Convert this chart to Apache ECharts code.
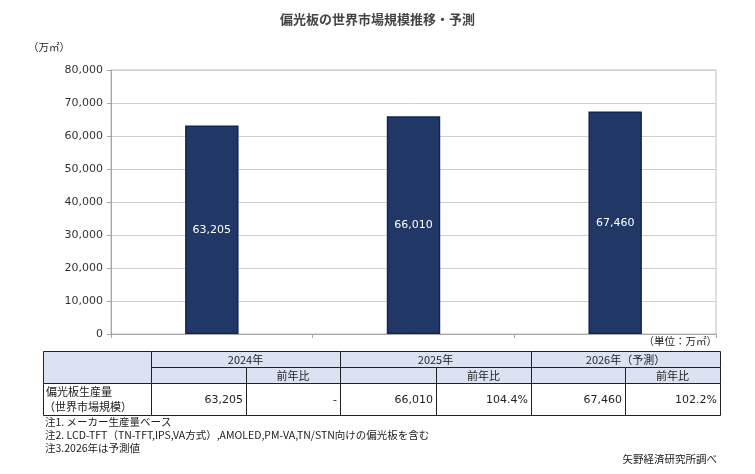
<!DOCTYPE html>
<html>
<head>
<meta charset="utf-8">
<script src="https://cdn.jsdelivr.net/npm/echarts@6/dist/echarts.min.js"></script>
<style>
  html, body { margin: 0; padding: 0; background: #fff; }
  #main { width: 755px; height: 474px; }
</style>
</head>
<body>
<div id="main"></div>
<script>
// データ
var years = ['2024年', '2025年', '2026年（予測）'];
var values = [63205, 66010, 67460];
var yoy = ['-', '104.4%', '102.2%'];
var rowLabel = ['偏光板生産量', '（世界市場規模）'];
var notes = [
    '注1. メーカー生産量ベース',
    '注2. LCD-TFT（TN-TFT,IPS,VA方式）,AMOLED,PM-VA,TN/STN向けの偏光板を含む',
    '注3.2026年は予測値'
];

var jp = '"Noto Sans CJK JP", sans-serif';
var num = '"DejaVu Sans", Verdana, sans-serif';

function fmt(v) {
    return v.toLocaleString('en-US');
}

// 表
var tL = 43, tTop = 351, r1 = 367, r2 = 383, tBot = 415;
var cols = [43, 151, 246, 340, 436, 531, 625, 720];
var headFill = '#dbe3f3';
var g = [];
function rect(x, y, w, h, fill) {
    g.push({ type: 'rect', shape: { x: x, y: y, width: w, height: h },
        style: { fill: fill, stroke: '#222', lineWidth: 1 } });
}
function txt(x, y, s, align, font, size) {
    g.push({ type: 'text', x: x, y: y,
        style: { text: s, align: align || 'left', verticalAlign: 'middle',
            font: (size || 11) + 'px ' + (font || jp), fill: '#222' } });
}
rect(cols[0] + 0.5, tTop + 0.5, cols[1] - cols[0], r2 - tTop, headFill);
for (var i = 0; i < 3; i++) {
    var a = cols[1 + i * 2], b = cols[2 + i * 2], c = cols[3 + i * 2];
    rect(a + 0.5, tTop + 0.5, c - a, r1 - tTop, headFill);
    rect(a + 0.5, r1 + 0.5, b - a, r2 - r1, headFill);
    rect(b + 0.5, r1 + 0.5, c - b, r2 - r1, headFill);
    rect(a + 0.5, r2 + 0.5, b - a, tBot - r2, '#fff');
    rect(b + 0.5, r2 + 0.5, c - b, tBot - r2, '#fff');
    txt((a + c) / 2, (tTop + r1) / 2 + 1, years[i], 'center', jp, 11);
    txt((b + c) / 2, (r1 + r2) / 2 + 1, '前年比', 'center', jp, 11);
    txt(b - 3, (r2 + tBot) / 2 + 1, fmt(values[i]), 'right', num, 11);
    txt(c - 3, (r2 + tBot) / 2 + 1, yoy[i], 'right', num, 11);
}
rect(cols[0] + 0.5, r2 + 0.5, cols[1] - cols[0], tBot - r2, '#fff');
txt(46, r2 + 9, rowLabel[0], 'left', jp, 11);
txt(44, r2 + 24, rowLabel[1], 'left', jp, 11);
notes.forEach(function (n, k) {
    txt(45, 422 + k * 13, n, 'left', jp, 10.5);
});
txt(717, 459, '矢野経済研究所調べ', 'right', jp, 10.5);
txt(717, 341, '（単位：万㎡）', 'right', jp, 10.5);
txt(28, 47, '（万㎡）', 'left', jp, 10.5);

var myChart = echarts.init(document.getElementById('main'));
var option = {
    animation: false,
    title: {
        text: '偏光板の世界市場規模推移・予測',
        left: 'center',
        top: 8,
        textStyle: { fontFamily: jp, fontSize: 13, fontWeight: 'bold', color: '#444' }
    },
    grid: { left: 111, right: 39, top: 70, bottom: 140, show: true, borderColor: '#bfbfbf', borderWidth: 1 },
    xAxis: {
        type: 'category',
        data: years,
        axisLine: { lineStyle: { color: '#a6a6a6' } },
        axisTick: { show: true, length: 4, lineStyle: { color: '#a6a6a6' } },
        axisLabel: { show: false }
    },
    yAxis: {
        type: 'value',
        min: 0,
        max: 80000,
        interval: 10000,
        axisLine: { show: true, lineStyle: { color: '#a6a6a6' } },
        axisTick: { show: true, length: 4, lineStyle: { color: '#a6a6a6' } },
        axisLabel: { formatter: function (v) { return fmt(v); }, fontFamily: num, fontSize: 11, color: '#333', margin: 8 },
        splitLine: { lineStyle: { color: '#d0d0d0' } }
    },
    series: [{
        type: 'bar',
        data: values,
        barWidth: '26.5%',
        itemStyle: { color: '#213867', borderColor: '#0f2756', borderWidth: 1.5 },
        label: {
            show: true,
            position: 'inside',
            formatter: function (p) { return fmt(p.value); },
            color: '#fff',
            fontFamily: num,
            fontSize: 11
        }
    }],
    graphic: g
};
myChart.setOption(option);
</script>
</body>
</html>
